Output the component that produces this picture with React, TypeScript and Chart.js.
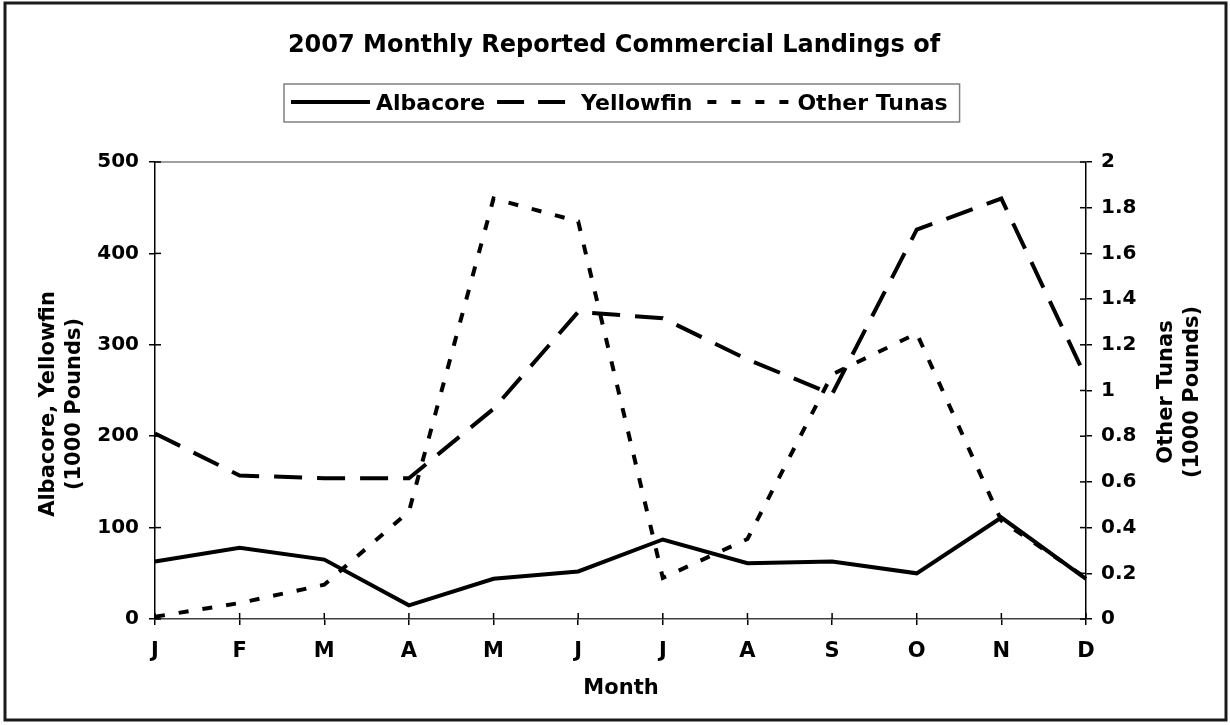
import { useEffect, useRef } from "react";
import { Chart, registerables } from "chart.js";

Chart.register(...registerables);

const months = ["J", "F", "M", "A", "M", "J", "J", "A", "S", "O", "N", "D"];
const albacore = [63, 78, 65, 15, 44, 52, 87, 61, 63, 50, 111, 44];
const yellowfin = [203, 157, 154, 154, 230, 336, 329, 284, 246, 426, 460, 264];
const otherTunas = [0.01, 0.07, 0.15, 0.47, 1.84, 1.74, 0.18, 0.35, 1.07, 1.25, 0.43, 0.18];

const seriesNames = ["Albacore", "Yellowfin", "Other Tunas"];
const titleText = "2007 Monthly Reported Commercial Landings of";
const leftAxisTitle = ["Albacore, Yellowfin", "(1000 Pounds)"];
const rightAxisTitle = ["Other Tunas", "(1000 Pounds)"];
const xAxisTitle = "Month";

const FONT = '"DejaVu Sans", Verdana, sans-serif';
const DASH_LONG = [28, 15];
const DASH_DOT = [10, 14];

const decor = {
  id: "decor",
  beforeDraw(chart: any) {
    const { ctx, width, height } = chart;
    ctx.save();
    ctx.fillStyle = "#ffffff";
    ctx.fillRect(0, 0, width, height);
    ctx.restore();
  },
  afterDraw(chart: any) {
    const { ctx, chartArea: ca } = chart;
    ctx.save();
    // plot area top border
    ctx.strokeStyle = "#808080";
    ctx.lineWidth = 1.5;
    ctx.beginPath();
    ctx.moveTo(ca.left, ca.top);
    ctx.lineTo(ca.right, ca.top);
    ctx.stroke();

    // inner halves of the cross tick marks
    ctx.strokeStyle = "#000";
    ctx.lineWidth = 1.5;
    const xs = chart.scales.x;
    xs.ticks.forEach((_: any, i: number) => {
      const px = xs.getPixelForTick(i);
      ctx.beginPath();
      ctx.moveTo(px, ca.bottom);
      ctx.lineTo(px, ca.bottom - 6);
      ctx.stroke();
    });
    const ys = chart.scales.y;
    ys.ticks.forEach((_: any, i: number) => {
      const py = ys.getPixelForTick(i);
      ctx.beginPath();
      ctx.moveTo(ca.left, py);
      ctx.lineTo(ca.left + 6, py);
      ctx.stroke();
    });
    const y1 = chart.scales.y1;
    y1.ticks.forEach((_: any, i: number) => {
      const py = y1.getPixelForTick(i);
      ctx.beginPath();
      ctx.moveTo(ca.right, py);
      ctx.lineTo(ca.right - 6, py);
      ctx.stroke();
    });

    // outer frame
    ctx.strokeStyle = "#1a1a1a";
    ctx.lineWidth = 3;
    ctx.strokeRect(5, 3, 1221, 717);

    ctx.fillStyle = "#000";
    // title
    ctx.font = `bold 24px ${FONT}`;
    ctx.textAlign = "center";
    ctx.textBaseline = "alphabetic";
    ctx.fillText(titleText, 614, 52);

    // legend
    ctx.font = `bold 22px ${FONT}`;
    ctx.textAlign = "left";
    const ly = 102;
    let x = 291;
    const samples: { len: number; dash: number[] }[] = [
      { len: 79, dash: [] },
      { len: 69, dash: [27, 14] },
      { len: 81, dash: [9, 15] },
    ];
    const gapsBefore = [6, 15, 9];
    const gapsAfterText = [12, 15, 12];
    ctx.strokeStyle = "#000";
    ctx.lineWidth = 4;
    seriesNames.forEach((name, i) => {
      const s = samples[i];
      ctx.setLineDash(s.dash);
      ctx.beginPath();
      ctx.moveTo(x, ly);
      ctx.lineTo(x + s.len, ly);
      ctx.stroke();
      ctx.setLineDash([]);
      x += s.len + gapsBefore[i];
      ctx.fillText(name, x, 110);
      x += ctx.measureText(name).width + gapsAfterText[i];
    });
    ctx.strokeStyle = "#808080";
    ctx.lineWidth = 1.5;
    ctx.strokeRect(284, 84, x - 284, 38);

    // axis titles
    ctx.fillStyle = "#000";
    ctx.font = `bold 21px ${FONT}`;
    ctx.textAlign = "center";
    ctx.textBaseline = "alphabetic";
    const rot = (tx: number, ty: number, text: string) => {
      ctx.save();
      ctx.translate(tx, ty);
      ctx.rotate(-Math.PI / 2);
      ctx.fillText(text, 0, 0);
      ctx.restore();
    };
    rot(54, 404, leftAxisTitle[0]);
    rot(80, 404, leftAxisTitle[1]);
    rot(1172, 392, rightAxisTitle[0]);
    rot(1198, 392, rightAxisTitle[1]);
    ctx.fillText(xAxisTitle, 621, 694);
    ctx.restore();
  },
};

export default function App() {
  const ref = useRef<HTMLCanvasElement | null>(null);
  useEffect(() => {
    document.body.style.margin = "0";
    const canvas = ref.current;
    if (!canvas) return;
    const tickFont = { family: FONT, size: 20, weight: "bold" as const };
    const chart = new Chart(canvas, {
      type: "line",
      data: {
        labels: months,
        datasets: [
          {
            label: seriesNames[0],
            data: albacore,
            yAxisID: "y",
            borderColor: "#000",
            borderWidth: 4,
            pointRadius: 0,
            tension: 0,
            fill: false,
          },
          {
            label: seriesNames[1],
            data: yellowfin,
            yAxisID: "y",
            borderColor: "#000",
            borderWidth: 4,
            borderDash: DASH_LONG,
            pointRadius: 0,
            tension: 0,
            fill: false,
          },
          {
            label: seriesNames[2],
            data: otherTunas,
            yAxisID: "y1",
            borderColor: "#000",
            borderWidth: 4,
            borderDash: DASH_DOT,
            pointRadius: 0,
            tension: 0,
            fill: false,
          },
        ],
      },
      options: {
        responsive: false,
        animation: false,
        devicePixelRatio: 1,
        layout: { padding: { top: 162, left: 0, right: 0, bottom: 0 } },
        plugins: {
          legend: { display: false },
          title: { display: false },
          tooltip: { enabled: false },
        },
        scales: {
          x: {
            type: "category",
            offset: false,
            grid: { drawOnChartArea: false, drawTicks: true, tickLength: 6, color: "#000", lineWidth: 1.5 },
            border: { display: true, color: "#404040", width: 1.5 },
            ticks: { font: { ...tickFont, size: 21 }, color: "#000", padding: 14, autoSkip: false, maxRotation: 0 },
            afterFit: (s: any) => {
              s.height = 106;
            },
          },
          y: {
            position: "left",
            min: 0,
            max: 500,
            ticks: { stepSize: 100, font: tickFont, color: "#000", padding: 10 },
            grid: { drawOnChartArea: false, drawTicks: true, tickLength: 6, color: "#000", lineWidth: 1.5 },
            border: { display: true, color: "#000", width: 1.5 },
            afterFit: (s: any) => {
              s.width = 155;
            },
          },
          y1: {
            position: "right",
            min: 0,
            max: 2,
            ticks: {
              stepSize: 0.2,
              font: tickFont,
              color: "#000",
              padding: 9,
              callback: (v: any) => String(Math.round(Number(v) * 10) / 10),
            },
            grid: { drawOnChartArea: false, drawTicks: true, tickLength: 6, color: "#000", lineWidth: 1.5 },
            border: { display: true, color: "#000", width: 1.5 },
            afterFit: (s: any) => {
              s.width = 144;
            },
          },
        },
      },
      plugins: [decor],
    });
    return () => chart.destroy();
  }, []);
  return <canvas ref={ref} width={1230} height={725} style={{ display: "block" }} />;
}
